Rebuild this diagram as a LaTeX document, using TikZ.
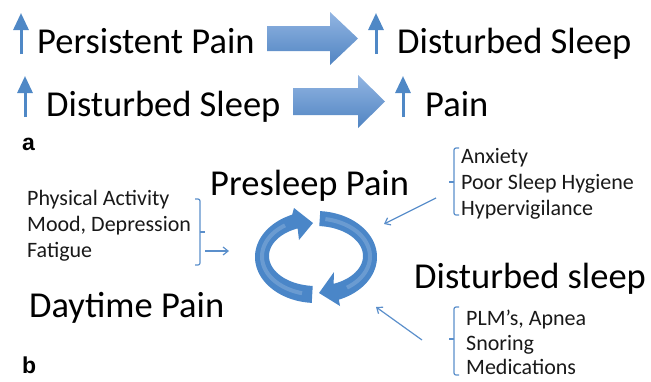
\documentclass[tikz,border=0pt]{standalone}
\usepackage{fontspec}
\setmainfont{Carlito}
\newfontfamily\labfont{Liberation Sans}
\usetikzlibrary{arrows.meta}
\definecolor{ringblue}{HTML}{4A86C8}
\definecolor{arrblue}{HTML}{4F88C6}
\definecolor{lineblue}{HTML}{5B8FCB}
\definecolor{bigtop}{HTML}{92B5E2}
\definecolor{bigbot}{HTML}{5084C2}
\begin{document}
\begin{tikzpicture}[x=1pt,y=-1pt,
  bigtext/.style={font=\fontsize{36.5}{40}\selectfont, anchor=base west, inner sep=0pt, text=black},
  smalltext/.style={font=\fontsize{22}{26}\selectfont, anchor=base west, inner sep=0pt, text=black!90},
  panel/.style={font=\labfont\bfseries\fontsize{23}{26}\selectfont, anchor=base west, inner sep=0pt},
  uparr/.style={draw=arrblue, line width=3pt, -{Triangle[width=15pt,length=17pt]}, arrblue},
  bigarr/.style={top color=bigtop, bottom color=bigbot, draw=none},
  brk/.style={draw=lineblue, line width=1.2pt, rounded corners=2pt},
  thinarr/.style={draw=lineblue, line width=1.2pt, -{Straight Barb[length=5pt,width=8pt]}},
  ring/.style={fill=ringblue},
  shine/.style={draw=white, opacity=0.18, line width=4pt}
]
\useasboundingbox (0,0) rectangle (651,381);

% ---- panel a ----
\draw[uparr] (21,54) -- (21,13);
\node[bigtext] (pp) at (37,53) {Persistent Pain};
\shade[bigarr] (267,26) -- (330,26) -- (330,12) -- (358,38.5) -- (330,65) -- (330,51) -- (267,51) -- cycle;
\draw[uparr] (376,54) -- (376,13);
\node[bigtext] (ds1) at (397,53) {Disturbed Sleep};

\draw[uparr] (25,117) -- (25,76);
\node[bigtext] (ds2) at (46,116) {Disturbed Sleep};
\shade[bigarr] (293,88) -- (358,88) -- (358,75) -- (385,101.5) -- (358,128) -- (358,115) -- (293,115) -- cycle;
\draw[uparr] (403,117) -- (403,76);
\node[bigtext] (pn) at (425,116) {Pain};

\node[panel] (la) at (22,150) {a};

% ---- panel b ----
\node[bigtext] (presleep) at (210,195) {Presleep Pain};
\node[bigtext] (daytime) at (29,317) {Daytime Pain};
\node[bigtext] (dsleep) at (414,288) {Disturbed sleep};

\node[smalltext] (l1) at (27,205) {Physical Activity};
\node[smalltext] (l2) at (27,231) {Mood, Depression};
\node[smalltext] (l3) at (27,257) {Fatigue};

\node[smalltext] (r1) at (461,163) {Anxiety};
\node[smalltext] (r2) at (461,189) {Poor Sleep Hygiene};
\node[smalltext] (r3) at (461,215) {Hypervigilance};

\node[smalltext] (s1) at (466,325) {PLM’s, Apnea};
\node[smalltext] (s2) at (466,350) {Snoring};
\node[smalltext] (s3) at (466,374) {Medications};

\node[panel] (lb) at (22,373) {b};

% brackets
\draw[brk] (195,199) -- (200,199) -- (200,265) -- (195,265);
\draw[brk] (200,232) -- (205,232);
\draw[brk] (459,148) -- (454,148) -- (454,215) -- (459,215);
\draw[brk] (454,182) -- (449,182);
\draw[brk] (459,307) -- (454,307) -- (454,375) -- (459,375);
\draw[brk] (454,339) -- (449,339);

% connector arrows
\coordinate (la0) at (205,251);
\coordinate (la1) at (229,251);
\coordinate (ra0) at (436,198);
\coordinate (ra1) at (384,224);
\coordinate (sa0) at (422,340);
\coordinate (sa1) at (376,307);
\draw[thinarr] (la0) -- (la1);
\draw[thinarr] (ra0) -- (ra1);
\draw[thinarr] (sa0) -- (sa1);

% cycle
\fill[ring] plot[domain=266:113, samples=50] ({316+61*cos(\x)},{257-46*sin(\x)})
  -- (294,208) -- (313,223) -- (299,240)
  -- plot[domain=113:266, samples=50] ({316+47*cos(\x)},{256-30*sin(\x)}) -- cycle;
\fill[ring] plot[domain=86:-68, samples=50] ({316+61*cos(\x)},{257-46*sin(\x)})
  -- (340,306) -- (319,293) -- (334,272)
  -- plot[domain=-68:86, samples=50] ({316+47*cos(\x)},{256-30*sin(\x)}) -- cycle;
\draw[shine] plot[domain=255:125, samples=40] ({316+54*cos(\x)},{256.5-38*sin(\x)});
\draw[shine] plot[domain=80:-55, samples=40] ({316+54*cos(\x)},{256.5-38*sin(\x)});
\end{tikzpicture}
\end{document}
